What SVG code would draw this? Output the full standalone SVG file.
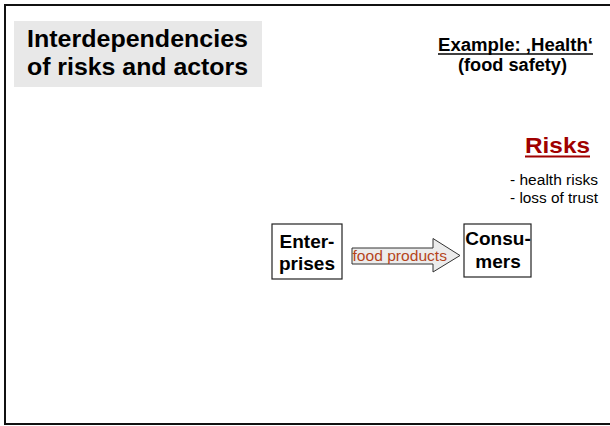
<svg xmlns="http://www.w3.org/2000/svg" width="610" height="426" viewBox="0 0 610 426">
<style>
text{font-family:"Liberation Sans",Arial,sans-serif;fill:#000}
.b{font-weight:bold}
.box{fill:#fff;stroke:#222;stroke-width:1.2}
</style>
<rect x="0" y="0" width="610" height="426" fill="#fff"/>
<rect x="5" y="5" width="612" height="419" fill="#fff" stroke="#111" stroke-width="2"/>
<g id="title">
<rect x="14" y="21" width="248" height="66" fill="#e8e8e8"/>
<text class="b" x="27" y="47" font-size="24.5" textLength="221" lengthAdjust="spacingAndGlyphs">Interdependencies</text>
<text class="b" x="27" y="75" font-size="24.5" textLength="221" lengthAdjust="spacingAndGlyphs">of risks and actors</text>
</g>
<g id="example">
<text class="b" x="438" y="50.5" font-size="17.5" textLength="155" lengthAdjust="spacingAndGlyphs">Example: ‚Health‘</text>
<line x1="438" y1="54" x2="593" y2="54" stroke="#000" stroke-width="1.5"/>
<text class="b" x="458" y="70.5" font-size="17.5" textLength="109" lengthAdjust="spacingAndGlyphs">(food safety)</text>
</g>
<g id="risks">
<text class="b" x="525" y="152.5" font-size="22.5" textLength="65" lengthAdjust="spacingAndGlyphs" style="fill:#a00000">Risks</text>
<line x1="525" y1="156.5" x2="590" y2="156.5" stroke="#a00000" stroke-width="2"/>
<text x="510" y="185" font-size="14" textLength="88" lengthAdjust="spacingAndGlyphs">- health risks</text>
<text x="510" y="202.5" font-size="14" textLength="88" lengthAdjust="spacingAndGlyphs">- loss of trust</text>
</g>
<g id="connectors">
<path d="M352 248 H433 V238.5 L460 255.5 L433 272 V264 H352 Z" fill="#ececec" stroke="#333" stroke-width="1"/>
<text x="352.5" y="260.5" font-size="15.5" textLength="94.5" lengthAdjust="spacingAndGlyphs" style="fill:#b5441b">food products</text>
</g>
<g id="enterprises">
<rect class="box" x="272" y="224" width="70" height="55"/>
<text class="b" x="307" y="247.5" font-size="19" text-anchor="middle">Enter-</text>
<text class="b" x="307" y="270" font-size="19" text-anchor="middle">prises</text>
</g>
<g id="consumers">
<rect class="box" x="464" y="224" width="67" height="53"/>
<text class="b" x="498" y="245" font-size="19" text-anchor="middle">Consu-</text>
<text class="b" x="498" y="268" font-size="19" text-anchor="middle">mers</text>
</g>
</svg>
